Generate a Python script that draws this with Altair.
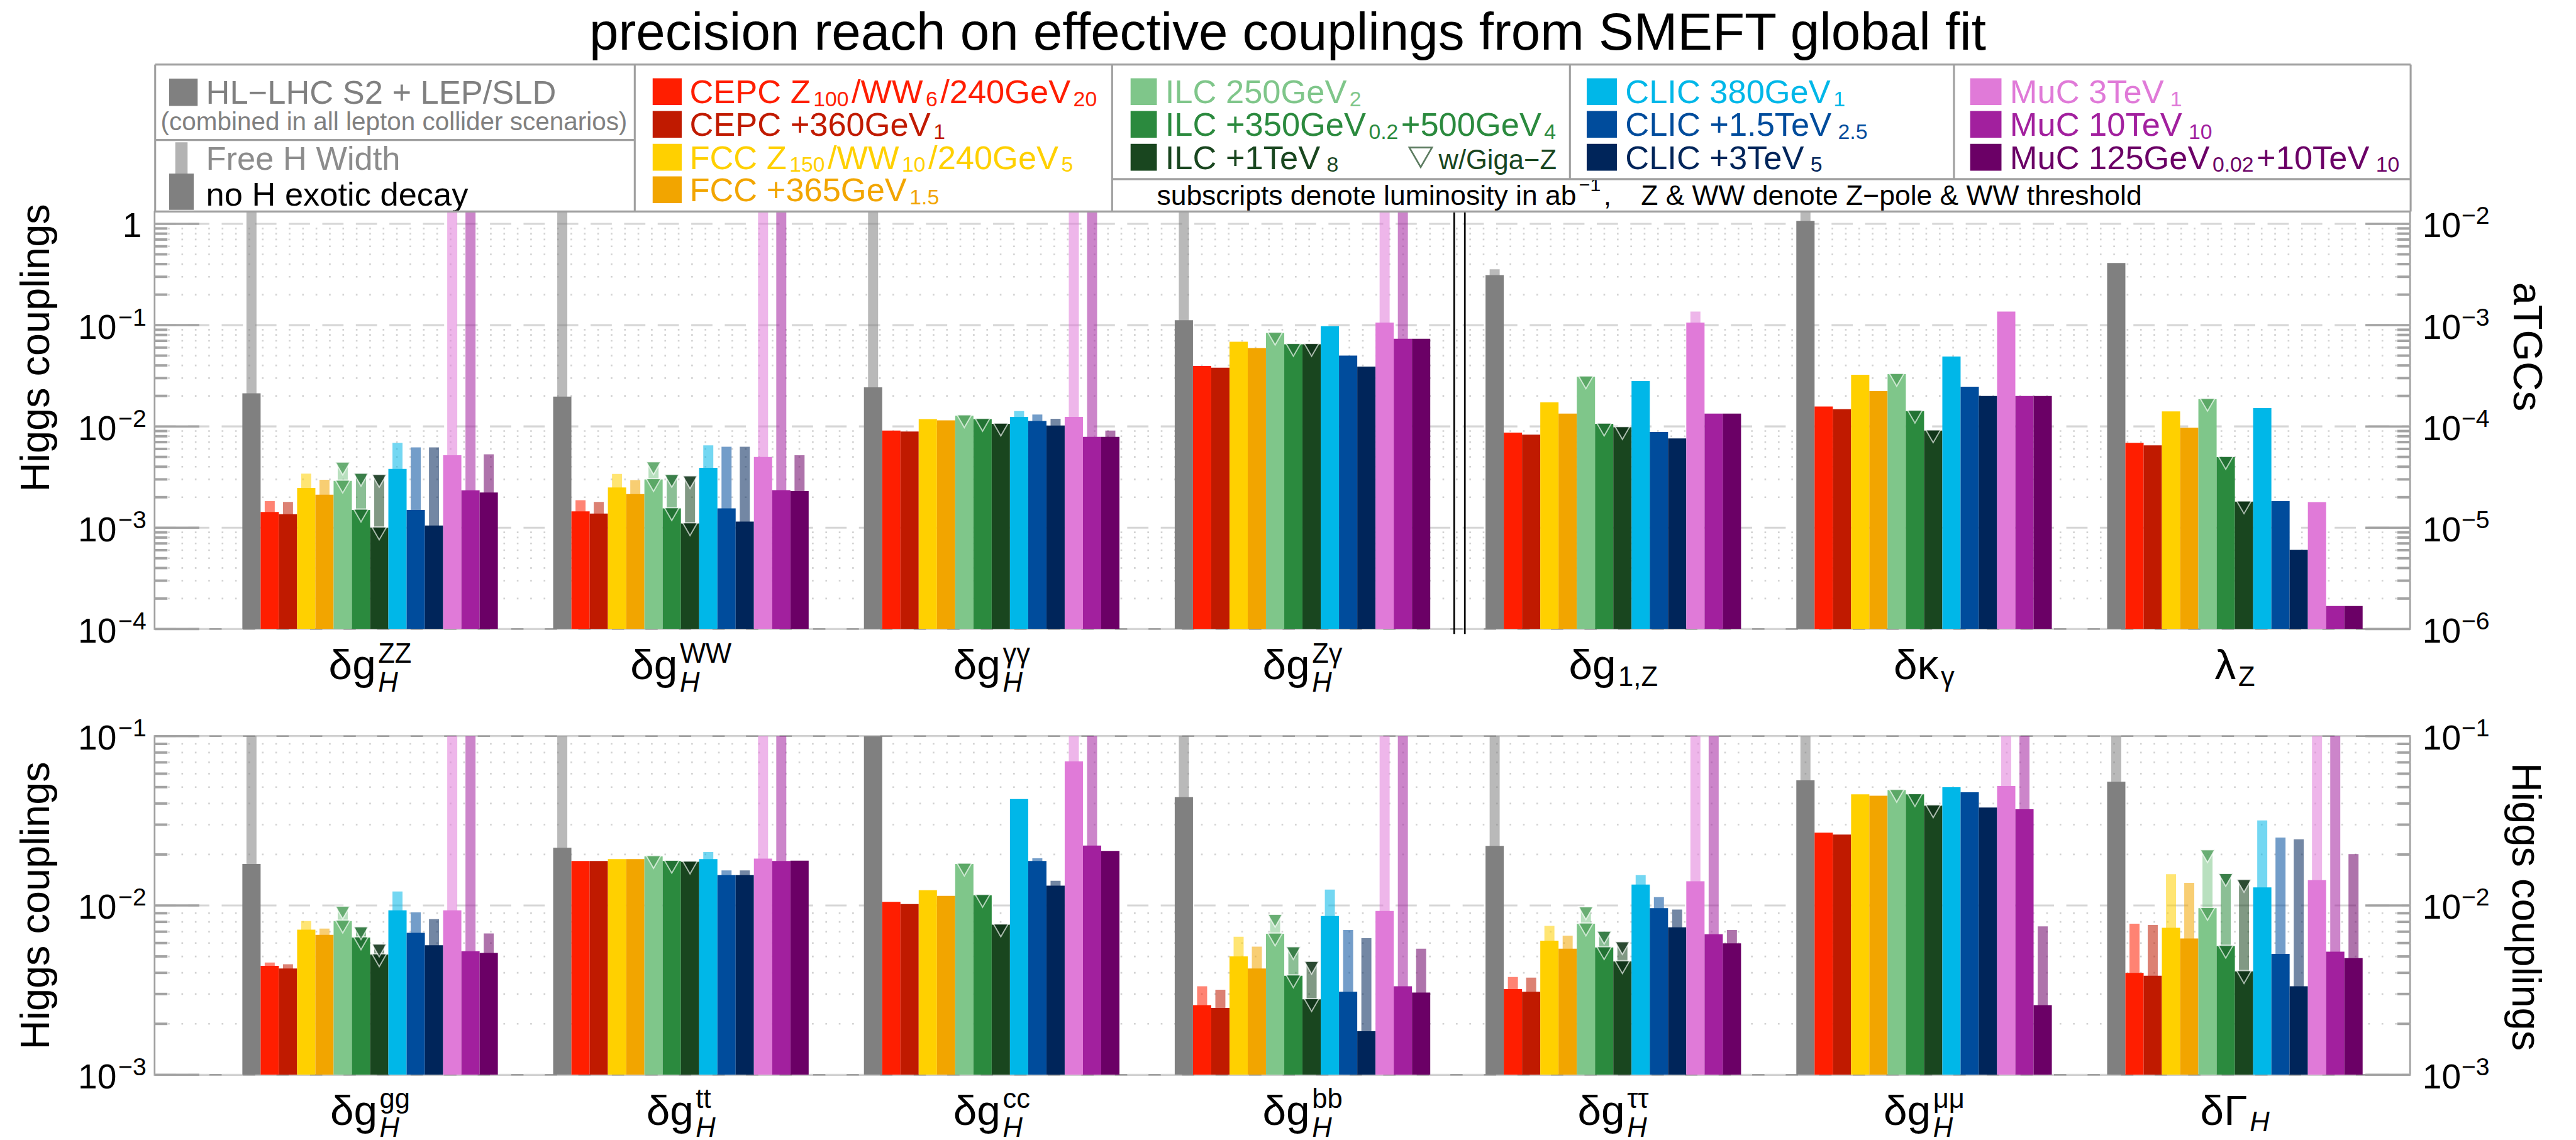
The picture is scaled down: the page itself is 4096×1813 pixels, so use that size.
import math
import altair as alt
import pandas as pd

S = 4096 / 4605.0
FONT = "Liberation Sans"

# ------------------------------------------------------------------ data
series = ["HL-LHC S2 + LEP/SLD", "CEPC Z100/WW6/240GeV20", "CEPC +360GeV1",
          "FCC Z150/WW10/240GeV5", "FCC +365GeV1.5", "ILC 250GeV2",
          "ILC +350GeV0.2+500GeV4", "ILC +1TeV8", "CLIC 380GeV1", "CLIC +1.5TeV2.5",
          "CLIC +3TeV5", "MuC 3TeV1", "MuC 10TeV10", "MuC 125GeV0.02+10TeV10"]
colors = ["#808080", "#ff1e00", "#c01a00", "#ffd000", "#f2a500", "#7fc68a",
          "#2b8a3e", "#19461f", "#00b7e8", "#004c9c", "#00255a", "#e07ad8",
          "#a2209e", "#6b0066"]
giga_z = [False, False, False, False, False, True, True, True,
          False, False, False, False, False, False]

OFF = 10.0   # bar runs past the top of the axis
N = None

# top row: four Higgs couplings, then three aTGCs (in their own units, right axis)
top_cats = ["dgH_ZZ", "dgH_WW", "dgH_aa", "dgH_Za", "dg1Z", "dkappa_gamma", "lambda_Z"]
zz_dark = [0.0212, 1.43e-3, 1.36e-3, 2.47e-3, 2.12e-3, 2.9e-3, 1.5e-3, 1.0e-3, 3.8e-3, 1.5e-3, 1.05e-3, 5.2e-3, 2.34e-3, 2.23e-3]
zz_free = [OFF, 1.83e-3, 1.8e-3, 3.42e-3, 2.97e-3, 4.36e-3, 3.39e-3, 3.3e-3, 6.9e-3, 6.2e-3, 6.2e-3, OFF, OFF, 5.3e-3]
ww_dark = [0.0197, 1.45e-3, 1.38e-3, 2.5e-3, 2.15e-3, 3.0e-3, 1.55e-3, 1.1e-3, 3.9e-3, 1.55e-3, 1.15e-3, 5.0e-3, 2.35e-3, 2.3e-3]
ww_free = [OFF, 1.87e-3, 1.8e-3, 3.4e-3, 2.95e-3, 4.4e-3, 3.3e-3, 3.2e-3, 6.5e-3, 6.3e-3, 6.3e-3, OFF, OFF, 5.2e-3]
aa_dark = [0.0243, 9.1e-3, 8.9e-3, 1.18e-2, 1.15e-2, 1.28e-2, 1.18e-2, 1.06e-2, 1.24e-2, 1.13e-2, 1.02e-2, 1.24e-2, 7.9e-3, 7.9e-3]
aa_free = [OFF, N, N, N, N, N, N, N, 1.42e-2, 1.31e-2, 1.19e-2, OFF, OFF, 9.1e-3]
za_dark = [0.112, 0.0395, 0.038, 0.0686, 0.0595, 0.0836, 0.0648, 0.0648, 0.0975, 0.050, 0.039, 0.106, 0.0734, 0.0734]
za_free = [OFF, N, N, N, N, N, N, N, N, N, N, OFF, OFF, N]
g1z_dark = [3.12e-3, 8.7e-5, 8.3e-5, 1.73e-4, 1.34e-4, 3.1e-4, 1.06e-4, 9.8e-5, 2.81e-4, 8.8e-5, 7.6e-5, 1.06e-3, 1.34e-4, 1.34e-4]
g1z_free = [3.56e-3, N, N, N, N, N, N, N, N, N, N, 1.36e-3, N, N]
kg_dark = [1.07e-2, 1.57e-4, 1.48e-4, 3.24e-4, 2.23e-4, 3.28e-4, 1.42e-4, 9.1e-5, 4.9e-4, 2.47e-4, 2.0e-4, 1.36e-3, 2.0e-4, 2.0e-4]
kg_free = [OFF, N, N, N, N, N, N, N, N, N, N, N, N, N]
lz_dark = [4.1e-3, 6.9e-5, 6.5e-5, 1.41e-4, 9.7e-5, 1.86e-4, 4.97e-5, 1.81e-5, 1.52e-4, 1.83e-5, 6.05e-6, 1.79e-5, 1.69e-6, 1.69e-6]
lz_free = [N] * 14

# bottom row: Higgs couplings
bot_cats = ["dgH_gg", "dgH_tt", "dgH_cc", "dgH_bb", "dgH_tautau", "dgH_mumu", "dGammaH"]
gg_dark = [0.0176, 4.4e-3, 4.24e-3, 7.2e-3, 6.7e-3, 8.1e-3, 6.46e-3, 5.13e-3, 9.35e-3, 6.9e-3, 5.82e-3, 9.35e-3, 5.37e-3, 5.24e-3]
gg_free = [OFF, 4.6e-3, 4.5e-3, 8.1e-3, 7.3e-3, 9.8e-3, 7.4e-3, 5.86e-3, 1.21e-2, 9.1e-3, 8.3e-3, OFF, OFF, 6.84e-3]
tt_dark = [0.0219, 0.0183, 0.0183, 0.0188, 0.0188, 0.0195, 0.0183, 0.0181, 0.0188, 0.0151, 0.0151, 0.0189, 0.0183, 0.0184]
tt_free = [OFF, N, N, N, N, N, N, N, 0.0207, 0.0161, 0.0161, OFF, OFF, N]
cc_dark = [0.2, 0.0105, 0.0102, 0.0123, 0.0114, 0.0176, 0.0115, 7.7e-3, 0.0425, 0.0183, 0.0131, 0.071, 0.0226, 0.021]
cc_free = [N, N, N, N, N, N, N, N, N, 0.019, 0.014, OFF, OFF, N]
bb_dark = [0.0436, 2.58e-3, 2.48e-3, 5.0e-3, 4.24e-3, 6.8e-3, 3.85e-3, 2.79e-3, 8.67e-3, 3.09e-3, 1.81e-3, 9.28e-3, 3.33e-3, 3.06e-3]
bb_free = [OFF, 3.33e-3, 3.18e-3, 6.53e-3, 5.71e-3, 8.77e-3, 5.65e-3, 4.63e-3, 0.0124, 7.16e-3, 6.41e-3, OFF, OFF, 5.55e-3]
ta_dark = [0.0225, 3.21e-3, 3.09e-3, 6.2e-3, 5.55e-3, 7.8e-3, 5.65e-3, 4.67e-3, 0.0133, 9.64e-3, 7.43e-3, 0.0139, 6.76e-3, 5.98e-3]
ta_free = [OFF, 3.78e-3, 3.75e-3, 7.58e-3, 6.64e-3, 9.72e-3, 6.97e-3, 6.05e-3, 0.0151, 0.0112, 9.46e-3, OFF, OFF, 7.16e-3]
mm_dark = [0.0548, 0.0269, 0.0262, 0.0453, 0.0445, 0.048, 0.0453, 0.0389, 0.0499, 0.0466, 0.0379, 0.0508, 0.037, 2.58e-3]
mm_free = [OFF, N, N, N, N, N, N, N, N, N, N, OFF, OFF, 7.52e-3]
gw_dark = [0.0538, 4.0e-3, 3.85e-3, 7.38e-3, 6.38e-3, 9.64e-3, 5.76e-3, 4.08e-3, 0.0128, 5.18e-3, 3.33e-3, 0.0141, 5.33e-3, 4.89e-3]
gw_free = [OFF, 7.8e-3, 7.67e-3, 0.0153, 0.0136, 0.0211, 0.0153, 0.0141, 0.0318, 0.0252, 0.0246, OFF, OFF, 0.0201]

# text content
title_text = "precision reach on effective couplings from SMEFT global fit"
top_labels = [("δg", "ZZ", "H"), ("δg", "WW", "H"), ("δg", "γγ", "H"), ("δg", "Zγ", "H"),
              ("δg", None, "1,Z"), ("δκ", None, "γ"), ("λ", None, "Z")]
bot_labels = [("δg", "gg", "H"), ("δg", "tt", "H"), ("δg", "cc", "H"), ("δg", "bb", "H"),
              ("δg", "ττ", "H"), ("δg", "μμ", "H"), ("δΓ", None, "H")]
legend_segs = [
    [("CEPC Z", 0), ("100", 1), ("/WW", 0), ("6", 1), ("/240GeV", 0), ("20", 1)],
    [("CEPC +360GeV", 0), ("1", 1)],
    [("FCC Z", 0), ("150", 1), ("/WW", 0), ("10", 1), ("/240GeV", 0), ("5", 1)],
    [("FCC +365GeV", 0), ("1.5", 1)],
    [("ILC 250GeV", 0), ("2", 1)],
    [("ILC +350GeV", 0), ("0.2", 1), ("+500GeV", 0), ("4", 1)],
    [("ILC +1TeV", 0), ("8", 1)],
    [("CLIC 380GeV", 0), ("1", 1)],
    [("CLIC +1.5TeV", 0), ("2.5", 1)],
    [("CLIC +3TeV", 0), ("5", 1)],
    [("MuC 3TeV", 0), ("1", 1)],
    [("MuC 10TeV", 0), ("10", 1)],
    [("MuC 125GeV", 0), ("0.02", 1), ("+10TeV", 0), ("10", 1)],
]
note_segs = [("subscripts denote luminosity in ab", 0), ("−1", 2), (",", 0), ("", 3),
             ("Z & WW denote Z−pole & WW threshold", 0)]

# ------------------------------------------------------------------ layout (reference px)
PL, PR = 275.0, 4310.0
T1, B1 = 376.0, 1123.0
T2, B2 = 1314.0, 1920.0
BW, G0, GP = 32.65, 432.0, 556.0
W = (PR - PL) * S
H1 = (B1 - T1) * S
H2 = (B2 - T2) * S
XDOM = [(PL - G0) / BW, (PR - G0) / BW]
TOP_DOM = [1e-4, 10 ** ((B1 - T1) / 181.25 - 4)]
BOT_DOM = [1e-3, 1e-1]
ATGC = 100.0  # right axis 1e-2 sits on left axis 1
tri_fill = {5: "#4f9e5b", 6: "#1f6a30", 7: "#0f3017"}
GRID = "#d6d6d6"
TICK = "#a3a3a3"

CW = {' ': 278, '(': 333, ')': 333, '+': 584, ',': 278, '-': 333, '.': 278, '/': 278, '&': 667,
      '−': 584, 'δ': 556, 'γ': 500, 'κ': 500, 'λ': 500, 'Γ': 556, 'μ': 576, 'τ': 400,
      'A': 667, 'B': 667, 'C': 722, 'D': 722, 'E': 667, 'F': 611, 'G': 778, 'H': 722, 'I': 278,
      'J': 500, 'K': 667, 'L': 556, 'M': 833, 'N': 722, 'O': 778, 'P': 667, 'Q': 778, 'R': 722,
      'S': 667, 'T': 611, 'U': 722, 'V': 667, 'W': 944, 'X': 667, 'Y': 667, 'Z': 611,
      'a': 556, 'b': 556, 'c': 500, 'd': 556, 'e': 556, 'f': 278, 'g': 556, 'h': 556, 'i': 222,
      'j': 222, 'k': 500, 'l': 222, 'm': 833, 'n': 556, 'o': 556, 'p': 556, 'q': 556, 'r': 333,
      's': 500, 't': 278, 'u': 556, 'v': 500, 'w': 722, 'x': 500, 'y': 500, 'z': 500}


def tw(s, fs):
    return sum(CW.get(c, 556) for c in s) * fs / 1000.0


txt_rows, rect_rows, line_rows = [], [], []


def put(X, Y, t, fs, col="#000000", align="left", style="normal", angle=0, baseline="alphabetic"):
    if t:
        txt_rows.append(dict(px=(X - PL) * S, py=(Y - T1) * S, t=t, fs=fs * S, col=col,
                             align=align, style=style, angle=angle, baseline=baseline))


def box(X1, Y1, X2, Y2, col):
    rect_rows.append(dict(px=(X1 - PL) * S, px2=(X2 - PL) * S, py=(Y1 - T1) * S,
                          py2=(Y2 - T1) * S, col=col))


def line(X1, Y1, X2, Y2):
    line_rows.append(dict(px=(X1 - PL) * S, px2=(X2 - PL) * S, py=(Y1 - T1) * S, py2=(Y2 - T1) * S))


GAP = 5


def segs_at(X, Yb, segs, fm, fsub, col):
    x = X
    for t, kind in segs:
        if kind == 0:
            put(x, Yb, t, fm, col)
            x += tw(t, fm) + GAP
        elif kind == 1:
            put(x, Yb + 5, t, fsub, col)
            x += tw(t, fsub) + GAP
        elif kind == 2:
            put(x, Yb - 24, t, fsub, col)
            x += tw(t, fsub) + GAP
        else:
            x += 48


# title
put(2302, 86, title_text, 94, align="center")

# legend frame
for a in [(276, 113, 4311, 113), (276, 376, 4311, 376), (276, 113, 276, 376), (4311, 113, 4311, 376),
          (1134, 113, 1134, 376), (1988, 113, 1988, 376), (2807, 113, 2807, 318),
          (3494, 113, 3494, 318), (276, 248, 1134, 248), (1988, 318, 4311, 318)]:
    line(*a)

FM, FSUB = 59, 38
row_c = [161.5, 220, 279, 337]
# column 1
box(301, 138, 352, 187, colors[0])
put(367, 183, series[0].replace("HL-LHC", "HL−LHC"), FM, "#808080")
put(286, 230, "(combined in all lepton collider scenarios)", 45.5, "#808080")
box(312, 252, 334, 308, "#b3b3b3")
box(301, 308, 345, 373, "#808080")
put(367, 301, "Free H Width", FM, "#8c8c8c")
put(367, 365, "no H exotic decay", FM, "#000000")
# collider columns
cols_x = [(1166, 1218, 1232), (2021, 2068, 2083), (2837, 2891, 2906), (3523, 3579, 3594)]
col_members = [[1, 2, 3, 4], [5, 6, 7], [8, 9, 10], [11, 12, 13]]
for (sx1, sx2, tx), mem in zip(cols_x, col_members):
    for r, si in enumerate(mem):
        yc = row_c[r]
        box(sx1, yc - 24, sx2, yc + 24, colors[si])
        segs_at(tx, yc + 21, legend_segs[si - 1], FM, FSUB, colors[si])
put(2572, 300, "w/Giga−Z", 49, colors[7])
segs_at(2068, 364, note_segs, 50, 34, "#000000")

# axis titles
put(65, 620, "Higgs couplings", 73, angle=270, align="center", baseline="middle")
put(65, 1618, "Higgs couplings", 73, angle=270, align="center", baseline="middle")
put(4517, 618, "aTGCs", 73, angle=90, align="center", baseline="middle")
put(4515, 1620, "Higgs couplings", 73, angle=90, align="center", baseline="middle")

# category labels
FLB, FSS = 76, 49
for labels, base in [(top_labels, B1), (bot_labels, B2)]:
    for g, (main, sup, sub) in enumerate(labels):
        cx = G0 + g * GP + 7 * BW
        wm = tw(main, FLB)
        ws = max(tw(sup or "", FSS), tw(sub, FSS))
        left = cx - (wm + 4 + ws) / 2
        put(left, base + 90, main, FLB)
        if sup:
            put(left + wm + 4, base + 60, sup, FSS)
            put(left + wm + 4, base + 112, sub, FSS, style="italic" if sub == "H" else "normal")
        else:
            put(left + wm + 4, base + 102, sub, FSS, style="italic" if sub == "H" else "normal")

# ------------------------------------------------------------------ pixel layer (top panel)
def pixel_layers():
    out = []
    tdf = pd.DataFrame(txt_rows)
    for key, sub in tdf.groupby(["align", "style", "angle", "baseline"]):
        al, st, an, bl = key
        out.append(alt.Chart(sub.drop(columns=["align", "style", "angle", "baseline"])).mark_text(
            font=FONT, align=al, fontStyle=st, angle=int(an), baseline=bl).encode(
            x=alt.X("px:Q", scale=None, axis=None),
            y=alt.Y("py:Q", scale=None, axis=None),
            text=alt.Text("t:N"),
            size=alt.Size("fs:Q", scale=None, legend=None),
            color=alt.Color("col:N", scale=None, legend=None)))
    out.append(alt.Chart(pd.DataFrame(rect_rows)).mark_rect().encode(
        x=alt.X("px:Q", scale=None, axis=None), x2="px2:Q",
        y=alt.Y("py:Q", scale=None, axis=None), y2="py2:Q",
        color=alt.Color("col:N", scale=None, legend=None)))
    out.append(alt.Chart(pd.DataFrame(line_rows)).mark_rule(color="#a0a0a0", strokeWidth=3.5 * S).encode(
        x=alt.X("px:Q", scale=None, axis=None), x2="px2:Q",
        y=alt.Y("py:Q", scale=None, axis=None), y2="py2:Q"))
    # legend triangle
    tdf2 = pd.DataFrame([dict(px=(2540 - PL) * S, py=(279 - T1) * S)])
    out.append(alt.Chart(tdf2).mark_point(shape="triangle-down", filled=False, size=1300,
                                          stroke=colors[7], strokeWidth=3 * S).encode(
        x=alt.X("px:Q", scale=None, axis=None), y=alt.Y("py:Q", scale=None, axis=None)))
    # canvas anchor
    adf = pd.DataFrame([dict(px=(0 - PL) * S, px2=(4605 - PL) * S, py=(0 - T1) * S, py2=(2038 - T1) * S)])
    out.append(alt.Chart(adf).mark_rect(opacity=0).encode(
        x=alt.X("px:Q", scale=None, axis=None), x2="px2:Q",
        y=alt.Y("py:Q", scale=None, axis=None), y2="py2:Q"))
    return out


# ------------------------------------------------------------------ panels
def panel(darks, frees, factors, dom, H, left_lab, right_lab, extra):
    ysc = alt.Scale(type="log", domain=dom, nice=False)
    xsc = alt.Scale(domain=XDOM, nice=False, zero=False)
    bars, lights, tris = [], [], []
    for g in range(7):
        f = factors[g]
        for i in range(14):
            x0 = g * GP / BW + i
            bars.append(dict(x0=x0, x1=x0 + 1, v=darks[g][i] * f, b=dom[0], col=colors[i]))
            fr = frees[g][i]
            if fr is not None:
                lights.append(dict(x0=x0 + 0.225, x1=x0 + 0.775, v=fr * f, b=dom[0], col=colors[i]))
            if giga_z[i]:
                tris.append(dict(xc=x0 + 0.5, v=darks[g][i] * f, col=tri_fill[i]))
                if fr is not None:
                    tris.append(dict(xc=x0 + 0.5, v=fr * f, col=tri_fill[i]))
    lo = round(math.log10(dom[0]))
    hi = math.floor(math.log10(dom[1]) + 1e-9)
    majors = [10.0 ** k for k in range(lo, hi + 1)]
    minors = [m * 10.0 ** k for k in range(lo, hi + 1) for m in range(2, 10) if m * 10.0 ** k < dom[1]]
    Y = lambda: alt.Y("v:Q", scale=ysc, axis=None)

    def rules(vals, x1, x2, color, width, dash=None):
        kw = dict(color=color, strokeWidth=width)
        if dash:
            kw["strokeDash"] = dash
        return alt.Chart(pd.DataFrame({"v": vals})).mark_rule(**kw).encode(
            y=Y(), x=alt.value(x1), x2=alt.value(x2))

    L = [rules(minors, 0, W, "#d2d2d2", 3 * S, [3 * S, 21 * S]),
         rules(majors, 0, W, GRID, 3.5 * S, [38 * S, 22 * S])]
    L.append(alt.Chart(pd.DataFrame(lights)).mark_rect(clip=True, opacity=0.55).encode(
        x=alt.X("x0:Q", scale=xsc, axis=None), x2="x1:Q", y=Y(), y2="b:Q",
        color=alt.Color("col:N", scale=None, legend=None)))
    L.append(alt.Chart(pd.DataFrame(bars)).mark_rect(clip=True).encode(
        x=alt.X("x0:Q", scale=xsc, axis=None), x2="x1:Q", y=Y(), y2="b:Q",
        color=alt.Color("col:N", scale=None, legend=None)))
    L.append(alt.Chart(pd.DataFrame(tris)).mark_point(
        shape="triangle-down", filled=True, size=560, stroke="#ffffff", strokeWidth=2.2 * S,
        strokeOpacity=0.85, opacity=0.75, yOffset=10 * S).encode(
        x=alt.X("xc:Q", scale=xsc, axis=None), y=Y(),
        color=alt.Color("col:N", scale=None, legend=None)))
    TL, TS = 80 * S, 23 * S
    L += [rules(majors, 0, TL, TICK, 4 * S), rules(majors, W - TL, W, TICK, 4 * S),
          rules(minors, 0, TS, TICK, 4.5 * S), rules(minors, W - TS, W, TICK, 4.5 * S)]
    L += extra
    # tick labels
    for labs, xm, xs, align_m in [(left_lab, (207 - PL) * S, (210 - PL) * S, "right"),
                                  (right_lab, (4332 - PL) * S, (4402 - PL) * S, "left")]:
        ten = [dict(v=v, t=m) for v, m, s in labs if m == "10"]
        sup = [dict(v=v, t=s) for v, m, s in labs if s]
        one = [dict(v=v, t=m) for v, m, s in labs if m == "1"]
        L.append(alt.Chart(pd.DataFrame(ten)).mark_text(
            font=FONT, fontSize=62 * S, align=align_m, baseline="middle", dy=5 * S).encode(
            y=Y(), x=alt.value(xm), text="t:N"))
        L.append(alt.Chart(pd.DataFrame(sup)).mark_text(
            font=FONT, fontSize=44 * S, align="left", baseline="middle", dy=-13 * S).encode(
            y=Y(), x=alt.value(xs), text="t:N"))
        if one:
            L.append(alt.Chart(pd.DataFrame(one)).mark_text(
                font=FONT, fontSize=62 * S, align="right", baseline="middle", dy=5 * S).encode(
                y=Y(), x=alt.value((252 - PL) * S), text="t:N"))
    return alt.layer(*L).resolve_scale(x="independent", y="independent").properties(width=W, height=H)


sep = alt.Chart(pd.DataFrame({"k": [0, 1]})).mark_rule(color="#000000", strokeWidth=3 * S).encode(
    x=alt.X("k:Q", scale=alt.Scale(domain=[0, 1], range=[(2600 - PL) * S, (2619 - PL) * S]), axis=None),
    y=alt.value(0), y2=alt.value((1132 - T1) * S))

top_left = [(1.0, "1", ""), (0.1, "10", "−1"), (0.01, "10", "−2"), (1e-3, "10", "−3"), (1e-4, "10", "−4")]
top_right = [(1.0, "10", "−2"), (0.1, "10", "−3"), (0.01, "10", "−4"), (1e-3, "10", "−5"), (1e-4, "10", "−6")]
bot_lab = [(0.1, "10", "−1"), (0.01, "10", "−2"), (1e-3, "10", "−3")]

top = panel([zz_dark, ww_dark, aa_dark, za_dark, g1z_dark, kg_dark, lz_dark],
            [zz_free, ww_free, aa_free, za_free, g1z_free, kg_free, lz_free],
            [1, 1, 1, 1, ATGC, ATGC, ATGC], TOP_DOM, H1, top_left, top_right,
            [sep] + pixel_layers())
bottom = panel([gg_dark, tt_dark, cc_dark, bb_dark, ta_dark, mm_dark, gw_dark],
               [gg_free, tt_free, cc_free, bb_free, ta_free, mm_free, gw_free],
               [1] * 7, BOT_DOM, H2, bot_lab, bot_lab, [])

chart = alt.vconcat(top, bottom, spacing=(T2 - B1) * S, bounds="flush").properties(
    padding=0).configure_view(stroke="#a0a0a0", strokeWidth=3 * S)

chart.save("out.html", embed_options={"renderer": "svg", "actions": False})
